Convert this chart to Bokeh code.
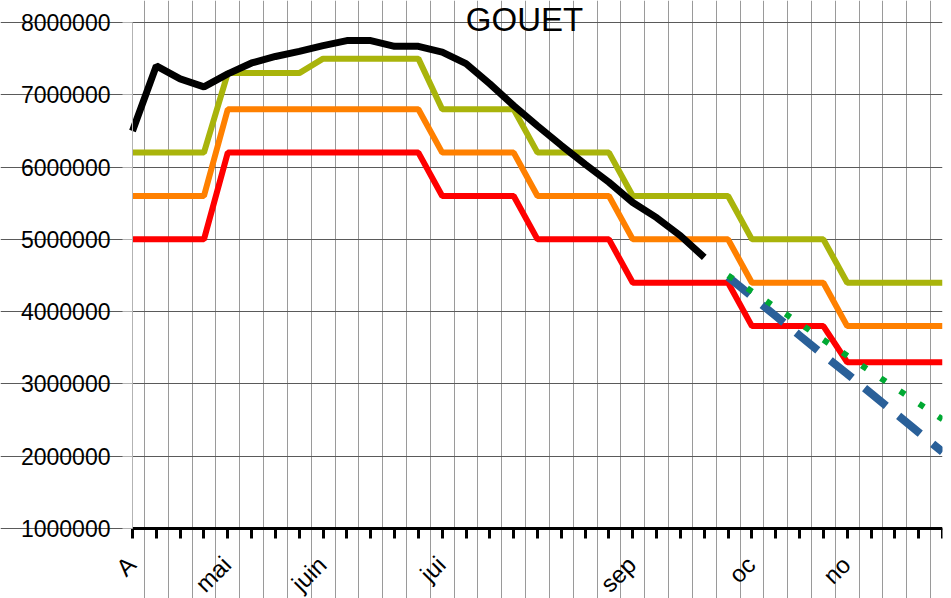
import math
from bokeh.plotting import figure
from bokeh.models import Range1d, FixedTicker, BasicTickFormatter
from bokeh.core.properties import value
from bokeh.embed import file_html
from bokeh.resources import INLINE

# ---- data -------------------------------------------------------------
x_labels = ["A", "", "", "", "mai", "", "", "", "juin", "", "", "", "", "jui",
            "", "", "", "", "", "", "", "sep", "", "", "", "", "oc", "", "", "",
            "no", "", "", "", ""]
idx = list(range(len(x_labels)))

actual = [6500000, 7400000, 7220000, 7110000, 7290000, 7440000, 7530000, 7600000,
          7680000, 7750000, 7750000, 7670000, 7670000, 7590000, 7430000, 7150000,
          6850000, 6570000, 6300000, 6040000, 5790000, 5510000, 5300000, 5050000,
          4750000]
upper = [6200000] * 4 + [7300000] * 4 + [7500000] * 5 + [6800000] * 4 + \
        [6200000] * 4 + [5600000] * 5 + [5000000] * 4 + [4400000] * 5
middle = [5600000] * 4 + [6800000] * 9 + [6200000] * 4 + [5600000] * 4 + \
         [5000000] * 5 + [4400000] * 4 + [3800000] * 5
lower = [5000000] * 4 + [6200000] * 9 + [5600000] * 4 + [5000000] * 4 + \
        [4400000] * 5 + [3800000] * 4 + [3300000] * 5
proj_x = idx[25:]
proj_dash = [4480000, 4210000, 3940000, 3670000, 3400000, 3140000, 2870000,
             2600000, 2330000, 2060000]
proj_dot = [4500000, 4280000, 4060000, 3840000, 3610000, 3390000, 3170000,
            2950000, 2730000, 2510000]
y_ticks = [1000000, 2000000, 3000000, 4000000, 5000000, 6000000, 7000000, 8000000]
title_text = "GOUET"

FONT = "Liberation Sans"

# ---- layout (pixels) ---------------------------------------------------
W, H = 948, 598
PAD_LEFT = 132      # room for the y tick labels
PAD_RIGHT = 6
PAD_TOP = 22        # space above the 8 000 000 line (title sits here)
PAD_BOTTOM = 70     # space below the x axis (rotated month labels)
x_first, x_last = idx[0], idx[-1]
xpx = (W - PAD_LEFT - PAD_RIGHT) / (x_last - x_first)
x_lo = x_first - PAD_LEFT / xpx
ypx = (H - PAD_TOP - PAD_BOTTOM) / (y_ticks[-1] - y_ticks[0])
y_lo = y_ticks[0] - PAD_BOTTOM / ypx
y_hi = y_ticks[-1] + PAD_TOP / ypx

p = figure(width=W, height=H, output_backend="svg", toolbar_location=None,
           x_range=Range1d(x_lo, x_last), y_range=Range1d(y_lo, y_hi),
           min_border_left=0, min_border_right=PAD_RIGHT, min_border_top=0,
           min_border_bottom=0)
p.outline_line_color = None
p.background_fill_color = "white"
p.border_fill_color = "white"

# grids
p.xgrid.ticker = FixedTicker(ticks=[i + 0.5 for i in idx[:-1]] + [idx[-1]])
p.xgrid.bounds = (y_ticks[0], y_ticks[-1])
p.xgrid.grid_line_color = "#9a9a9a"
p.xgrid.grid_line_width = 1
p.ygrid.ticker = FixedTicker(ticks=y_ticks)
p.ygrid.bounds = (x_first, x_last)
p.ygrid.grid_line_color = "#5a5a5a"
p.ygrid.grid_line_width = 1

# x axis: sits on the 1 000 000 line
p.xaxis.fixed_location = y_ticks[0]
p.xaxis.bounds = (x_first, x_last)
p.xaxis.ticker = FixedTicker(ticks=idx)
p.xaxis.major_label_overrides = {i: "" for i in idx}
p.xaxis.major_label_standoff = 0
p.xaxis.axis_line_color = "black"
p.xaxis.axis_line_width = 3
p.xaxis.major_tick_line_color = "black"
p.xaxis.major_tick_line_width = 3
p.xaxis.major_tick_out = 10
p.xaxis.major_tick_in = 0
p.xaxis.minor_tick_line_color = None

# rotated month labels under the ticks
p.text(x=idx, y=[y_ticks[0]] * len(idx), text=x_labels, angle=math.pi / 4,
       x_offset=-1, y_offset=32, text_font=value(FONT), text_font_size="24px",
       text_color="black", text_align="right", text_baseline="middle")

# y axis: sits on the first category
p.yaxis.fixed_location = x_first
p.yaxis.ticker = FixedTicker(ticks=y_ticks)
p.yaxis.bounds = (y_ticks[0], y_ticks[-1])
p.yaxis.formatter = BasicTickFormatter(use_scientific=False)
p.yaxis.major_label_text_font = FONT
p.yaxis.major_label_text_font_size = "23px"
p.yaxis.major_label_text_color = "black"
p.yaxis.axis_line_color = "#b3b3b3"
p.yaxis.major_tick_line_color = "#b3b3b3"
p.yaxis.major_tick_out = 10
p.yaxis.major_tick_in = 0
p.yaxis.minor_tick_line_color = None
p.yaxis.major_label_standoff = 12

# series
p.line(idx, upper, line_color="#a9b40b", line_width=6)
p.line(idx, middle, line_color="#ff8000", line_width=6)
p.line(idx, lower, line_color="#ff0000", line_width=6)
p.line(idx[:len(actual)], actual, line_color="black", line_width=7)
p.line(proj_x, proj_dash, line_color="#2a6099", line_width=8, line_dash="28 16")
p.line(proj_x, proj_dot, line_color="#00a933", line_width=6, line_dash="6 17")

# title, centred a little left of the plot centre, straddling the top line
p.text(x=[x_last * 0.484], y=[y_ticks[-1]], text=[title_text], y_offset=-3,
       text_font=value(FONT), text_font_size="33px", text_color="black",
       text_align="center", text_baseline="middle")

open("out.html", "w").write(file_html(p, INLINE))
